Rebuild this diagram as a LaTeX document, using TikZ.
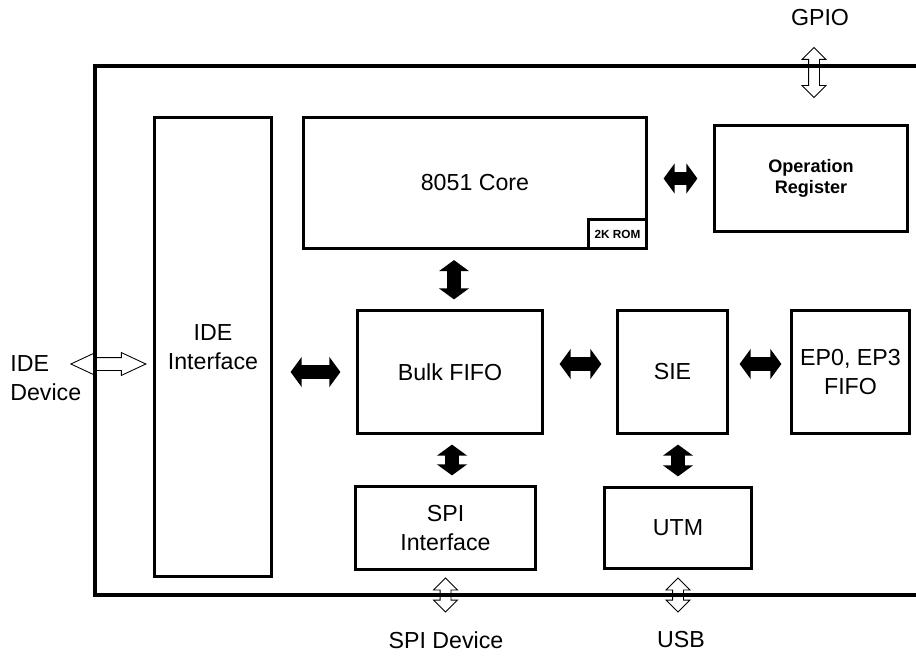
\documentclass[tikz,border=0pt]{standalone}
\usepackage{fontspec}
\setmainfont{Liberation Sans}
\usetikzlibrary{positioning,calc,arrows.meta,shapes.arrows}

\begin{document}
\begin{tikzpicture}[x=0.02cm, y=-0.02cm,
    font=\fontsize{13.2}{16.2}\selectfont,
    block/.style={draw, line width=0.065cm, align=center, inner sep=0pt},
    fat/.style={line width=0.27cm, line cap=round,
      {Triangle[width=0.6cm,length=0.22cm,line width=0pt]}-{Triangle[width=0.6cm,length=0.22cm,line width=0pt]},
      shorten <=0.2cm, shorten >=0.2cm},
    hollow/.style={double arrow, draw, line width=0.5pt, inner xsep=0pt, inner ysep=0.1cm,
      double arrow head extend=0.13cm}]
    \useasboundingbox (0,0) rectangle (916,656);

    % outer frame, open on the right
    \coordinate (ftl) at (95,66);
    \coordinate (fbl) at (95,595);
    \coordinate (ftr) at (930,66);
    \coordinate (fbr) at (930,595);
    \draw[line width=0.07cm] (ftr) -- (ftl) -- (fbl) -- (fbr);

    \node(ide) [block, minimum width=2.34cm, minimum height=9.18cm] at (213,347) {IDE\\Interface};
    \node(core) [block, minimum width=6.86cm, minimum height=2.62cm] at (475,183) {8051 Core};
    \node(rom) [block, anchor=south east, minimum width=1.16cm, minimum height=0.58cm,
      font=\bfseries\fontsize{6.7}{8}\selectfont] at (core.south east) {2K ROM};
    \node(opreg) [block, minimum width=3.86cm, minimum height=2.12cm,
      font=\bfseries\fontsize{10.3}{12}\selectfont] at (811,178.5) {Operation\\Register};
    \node(bulk) [block, minimum width=3.70cm, minimum height=2.46cm] at (450,372) {Bulk FIFO};
    \node(sie) [block, minimum width=2.20cm, minimum height=2.46cm] at (672.5,372) {SIE};
    \node(ep) [block, minimum width=2.36cm, minimum height=2.46cm] at (850.5,372) {EP0, EP3\\FIFO};
    \node(spi) [block, minimum width=3.60cm, minimum height=1.66cm] at (445.5,528) {SPI\\Interface};
    \node(utm) [block, minimum width=2.94cm, minimum height=1.62cm] at (678,528) {UTM};

    % outside labels
    \node(gpio) at (820,18) {GPIO};
    \node(idedev) [anchor=west, align=left, inner sep=0pt] at (10,378) {IDE\\Device};
    \node(spidev) at (446,640) {SPI Device};
    \node(usb) at (681,640) {USB};

    % open arrows to the outside
    \node(gpioarr) [hollow, rotate=90, minimum height=1.0cm] at ([xshift=0.06cm,yshift=1.03cm]opreg.north) {};
    \node(spiarr) [hollow, rotate=90, minimum height=0.68cm] at (spi.south |- fbl) {};
    \node(usbarr) [hollow, rotate=90, minimum height=0.68cm] at (utm.south |- fbl) {};
    \node(idearr) [hollow, minimum height=1.5cm, inner ysep=0.12cm, double arrow head extend=0.1cm,
      double arrow tip angle=50, left=0.12cm of ide.west, yshift=-0.34cm] {};

    % data paths
    \draw[fat, shorten >=0.19cm] ($(bulk.north |- core.south)+(4,0)$) -- ($(bulk.north)+(4,0)$);
    \draw[fat, shorten <=0.31cm, shorten >=0.31cm] (core.east |- opreg.west) -- (opreg.west);
    \draw[fat, shorten <=0.35cm, shorten >=0.31cm] (ide.east |- bulk.west) -- (bulk.west);
    \draw[fat, shorten <=0.31cm, shorten >=0.29cm] ($(bulk.east)+(0,-8)$) -- ($(sie.west)+(0,-8)$);
    \draw[fat, shorten <=0.21cm, shorten >=0.17cm] ($(sie.east)+(0,-8)$) -- ($(ep.west)+(0,-8)$);
    \draw[fat, shorten <=0.19cm, shorten >=0.19cm] ($(bulk.south)+(2,0)$) -- ($(bulk.south |- spi.north)+(2,0)$);
    \draw[fat, shorten <=0.19cm, shorten >=0.19cm] (utm.north |- sie.south) -- (utm.north);
\end{tikzpicture}
\end{document}
